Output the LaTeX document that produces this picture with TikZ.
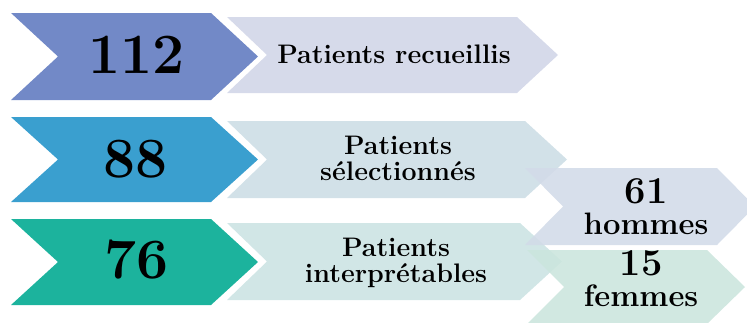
\documentclass[tikz,border=0pt]{standalone}
\usepackage{tikz}

\definecolor{bluea}{HTML}{7289C7}
\definecolor{blueb}{HTML}{3A9FCF}
\definecolor{teal}{HTML}{1CB39D}
\definecolor{palea}{HTML}{D6DAEA}
\definecolor{paleb}{HTML}{D2E1E8}
\definecolor{palec}{HTML}{D1E6E6}
\definecolor{paled}{HTML}{D2DBE8}
\definecolor{palee}{HTML}{CBE5DD}

\tikzset{
	num/.style={font=\fontsize{57}{57}\selectfont\bfseries, inner sep=0pt, anchor=base},
	lbl/.style={font=\fontsize{26.8}{26}\selectfont\bfseries, inner sep=0pt, align=center},
	sub/.style={font=\fontsize{31}{31}\selectfont\bfseries, inner sep=0pt, align=center},
	pale/.style={fill opacity=0.88}
}

\begin{document}
\begin{tikzpicture}[x=1pt, y=-1pt]
			\useasboundingbox (0,0) rectangle (747,322);
			\fill[color=bluea] (11,13) -- (211,13) -- (258,56.5) -- (211,100) -- (11,100) -- (58,56.5) -- cycle;
			\fill[color=blueb] (11,117) -- (211,117) -- (258,159.5) -- (211,202) -- (11,202) -- (58,159.5) -- cycle;
			\fill[color=teal] (11,219) -- (211,219) -- (258,262) -- (211,305) -- (11,305) -- (58,262) -- cycle;
			\fill[color=palea] (227,17) -- (517,17) -- (558,55) -- (517,93) -- (227,93) -- (267,55) -- cycle;
			\fill[color=paleb] (227,121) -- (525,121) -- (567,159.5) -- (525,198) -- (227,198) -- (267,159.5) -- cycle;
			\fill[color=palec] (227,223) -- (520,223) -- (562,261.5) -- (520,300) -- (227,300) -- (267,261.5) -- cycle;
			\fill[color=paled, pale] (525,168) -- (717,168) -- (755,206.5) -- (717,245) -- (525,245) -- (563,206.5) -- cycle;
			\fill[color=palee, pale] (527,250) -- (707,250) -- (745,287) -- (707,324) -- (527,324) -- (564,287) -- cycle;
			\node[num] (n112) at (136.5,73) {112};
			\node[num] (n88) at (135.5,177) {88};
			\node[num] (n76) at (136.5,278) {76};
			\node[lbl, anchor=base] (recueillis) at (394,63) {Patients recueillis};
			\node[lbl] (selection) at (398,158.8) {Patients\\sélectionnés};
			\node[lbl] (interpret) at (396,263.3) {Patients\\interprétables};
			\node[sub] (hommes) at (646,206.3) {{\fontsize{38}{38}\selectfont 61}\\hommes};
			\node[sub] (femmes) at (641,278.8) {{\fontsize{38}{38}\selectfont 15}\\femmes};
		\end{tikzpicture}
\end{document}
